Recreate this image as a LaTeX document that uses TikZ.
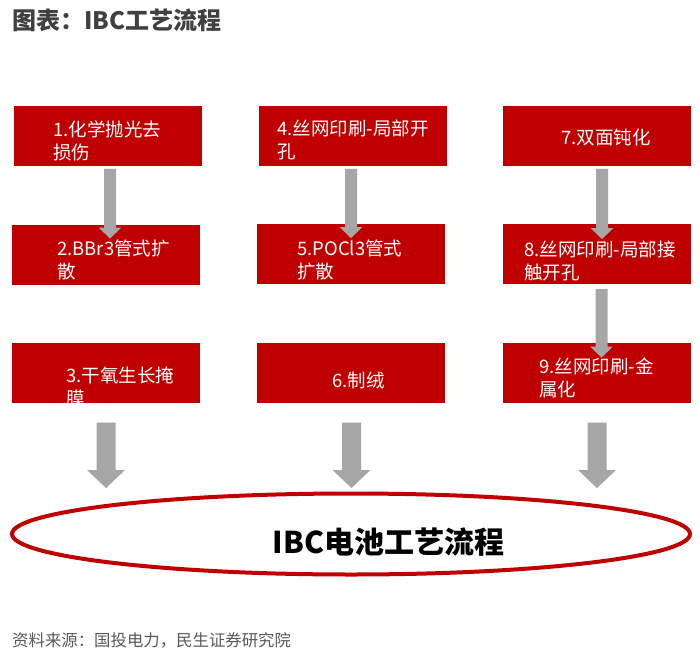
\documentclass[tikz,border=0pt]{standalone}
\usepackage{fontspec}
\setmainfont{Noto Sans CJK SC}
\usetikzlibrary{calc,shapes.geometric,backgrounds}
\definecolor{boxred}{HTML}{C00000}
\definecolor{arrgray}{HTML}{A6A6A6}
\definecolor{titlegray}{HTML}{404040}
\definecolor{footgray}{HTML}{595959}
% small connector arrow: from node, to node, start offset "dx,dy", tip offset below target north
\newcommand\smallarr[4]{%
  \fill[arrgray] let \p1=($(#1.south)+(#3)$), \p2=($(#2.north)+(0,#4)$) in
    (\x1-6pt,\y1) -- (\x1+6pt,\y1) -- (\x1+6pt,\y2+11pt) -- (\x1+11.5pt,\y2+11pt)
    -- (\x1,\y2) -- (\x1-11.5pt,\y2+11pt) -- (\x1-6pt,\y2+11pt) -- cycle;}
% big connector arrow into the ellipse
\newcommand\bigarr[3]{%
  \fill[arrgray] let \p1=($(#1.south)+(#3,20)$), \p2=(#2.north) in
    (\x1-9.5pt,\y1) -- (\x1+9.5pt,\y1) -- (\x1+9.5pt,\y2+23.5pt) -- (\x1+19pt,\y2+23.5pt)
    -- (\x1,\y2+5.5pt) -- (\x1-19pt,\y2+23.5pt) -- (\x1-9.5pt,\y2+23.5pt) -- cycle;}
\begin{document}
\begin{tikzpicture}[x=1pt,y=-1pt,
  box/.style={fill=boxred, draw=none, minimum width=188pt, minimum height=60pt, inner sep=0pt, outer sep=0pt},
  boxtxt/.style={text=white, font=\fontsize{18.5pt}{23pt}\selectfont, align=left, anchor=base west, inner sep=0pt},
]
\useasboundingbox (0,0) rectangle (700,652);
\fill[white] (0,0) rectangle (700,652);

\node[anchor=base west, inner sep=0pt, text=titlegray, font=\bfseries\fontsize{24pt}{28pt}\selectfont] (title) at (12,30) {图表：IBC工艺流程};

\node[box] (b1) at (108,136) {};
\node[box] (b2) at (105.5,254.5) {};
\node[box] (b3) at (106,372.5) {};
\node[box] (b4) at (353,136) {};
\node[box] (b5) at (351,254) {};
\node[box] (b6) at (351,372.5) {};
\node[box] (b7) at (596.5,136) {};
\node[box] (b8) at (596.5,254) {};
\node[box] (b9) at (597,372.5) {};

% anchor base = baseline of the last line
\node[boxtxt] (t1) at (53,160) {1.化学抛光去\\损伤};
\node[boxtxt] (t2) at (57,278) {2.BBr3管式扩\\散};
\node[boxtxt] (t3) at (66,405) {3.干氧生长掩\\膜};
\node[boxtxt] (t4) at (277,159) {4.丝网印刷-局部开\\孔};
\node[boxtxt] (t5) at (297,278) {5.POCl3管式\\扩散};
\node[boxtxt] (t6) at (332,387) {6.制绒};
\node[boxtxt] (t7) at (561,145) {7.双面钝化};
\node[boxtxt] (t8) at (524,279) {8.丝网印刷-局部接\\触开孔};
\node[boxtxt] (t9) at (539,396) {9.丝网印刷-金\\属化};

\begin{pgfonlayer}{background}
\smallarr{b2}{b3}{4.5,6}{14}
\smallarr{b5}{b6}{0,6}{14}
\end{pgfonlayer}
\smallarr{b1}{b2}{2,3}{14}
\smallarr{b4}{b5}{-2,3}{14}
\smallarr{b7}{b8}{5.5,3}{15}
\smallarr{b8}{b9}{5,5}{15}

\node[draw=boxred, line width=4pt, ellipse, minimum width=678pt, minimum height=81pt, inner sep=0pt, outer sep=0pt] (ell) at (351,534) {};
\node[anchor=base, inner sep=0pt, font=\bfseries\fontsize{30pt}{34pt}\selectfont] (etxt) at (388.5,553.5) {IBC电池工艺流程};

\bigarr{b3}{ell}{0}
\bigarr{b6}{ell}{0.5}
\bigarr{b9}{ell}{0}

\node[anchor=base west, inner sep=0pt, text=footgray, font=\fontsize{16.4pt}{20pt}\selectfont] (foot) at (12,646) {资料来源：国投电力，民生证券研究院};
\end{tikzpicture}
\end{document}
